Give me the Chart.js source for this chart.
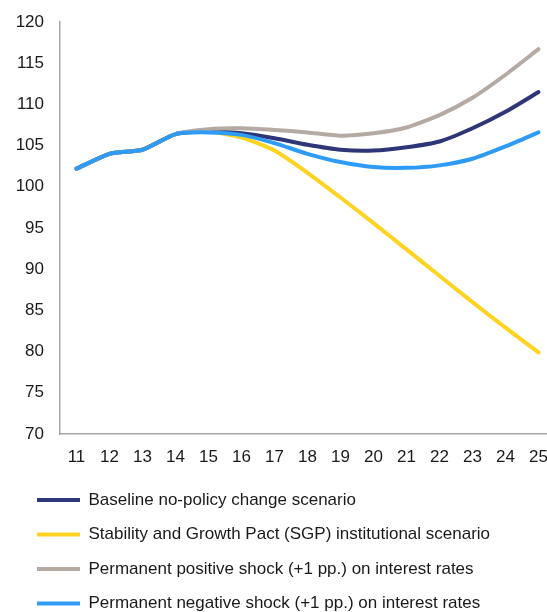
<!DOCTYPE html>
<html>
<head>
<meta charset="utf-8">
<script src="https://cdn.jsdelivr.net/npm/chart.js@4/dist/chart.umd.min.js"></script>
<style>
	html, body { margin: 0; padding: 0; background: #fff; overflow: hidden; }
	#wrap { width: 561px; height: 622px; }
</style>
</head>
<body>
<div id="wrap"><canvas id="myChart"></canvas></div>
<script>
	//연도 (x축)
	var years = ['11', '12', '13', '14', '15', '16', '17', '18', '19', '20', '21', '22', '23', '24', '25'];
	//시나리오별 값
	var baseline = [102.2, 104.0, 104.5, 106.4, 106.7, 106.5, 105.9, 105.1, 104.5, 104.4, 104.8, 105.5, 107.1, 109.1, 111.5];
	var sgp = [102.2, 104.0, 104.5, 106.4, 106.7, 106.0, 104.4, 101.7, 98.7, 95.6, 92.4, 89.2, 86.0, 82.9, 79.9];
	var positiveShock = [102.2, 104.0, 104.5, 106.4, 107.0, 107.1, 106.9, 106.6, 106.2, 106.5, 107.2, 108.7, 110.8, 113.6, 116.7];
	var negativeShock = [102.2, 104.0, 104.5, 106.4, 106.6, 106.3, 105.3, 104.0, 103.0, 102.4, 102.3, 102.6, 103.4, 104.9, 106.6];
	//범례
	var seriesNames = [
		'Baseline no-policy change scenario',
		'Stability and Growth Pact (SGP) institutional scenario',
		'Permanent positive shock (+1 pp.) on interest rates',
		'Permanent negative shock (+1 pp.) on interest rates'
	];

	var fontSet = { family: 'Liberation Sans, Arial, sans-serif', size: 17 };

	function line(label, values, color, order) {
		return {
			label: label,
			data: values,
			borderColor: color,
			backgroundColor: color,
			borderWidth: 4,
			borderCapStyle: 'round',
			borderJoinStyle: 'round',
			pointRadius: 0,
			tension: 0.2,
			order: order
		};
	}

	//범례만 오른쪽으로 밀기
	var legendShift = {
		id: 'legendShift',
		afterLayout: function(chart) {
			if (chart.legend) chart.legend.left = 19.5;
		}
	};

	var ctx = document.getElementById('myChart').getContext('2d');
	var chart = new Chart(ctx, {
		type: 'line',
		data: {
			labels: years,
			datasets: [
				line(seriesNames[0], baseline, '#2f3677', 2),
				line(seriesNames[1], sgp, '#ffd320', 3),
				line(seriesNames[2], positiveShock, '#b4aaa3', 1),
				line(seriesNames[3], negativeShock, '#2e9bf6', 0)
			]
		},
		options: {
			responsive: true,
			maintainAspectRatio: false,
			animation: false,
			layout: { padding: { top: 22, left: 0, right: 2, bottom: 0 } },
			plugins: {
				tooltip: { enabled: false },
				legend: {
					position: 'bottom',
					align: 'start',
					labels: {
						usePointStyle: true,
						pointStyle: 'line',
						pointStyleWidth: 43,
						padding: 17.5,
						color: '#1a1a1a',
						font: fontSet,
						sort: function(a, b) { return a.datasetIndex - b.datasetIndex; }
					}
				}
			},
			scales: {
				x: {
					offset: true,
					grid: { display: false, drawTicks: false },
					border: { color: '#a6a6a6', width: 1.5 },
					ticks: {
						padding: 13,
						maxRotation: 0,
						autoSkip: false,
						color: '#1a1a1a',
						font: fontSet
					},
					afterFit: function(axis) { axis.height = 40; }
				},
				y: {
					min: 70,
					max: 120,
					grid: { display: false, drawTicks: false },
					border: { color: '#a6a6a6', width: 1.5 },
					ticks: {
						stepSize: 5,
						padding: 16,
						color: '#1a1a1a',
						font: fontSet
					},
					afterFit: function(axis) {
						axis.width = 60;
						axis.paddingTop = 0;
						axis.paddingBottom = 0;
					}
				}
			}
		},
		plugins: [legendShift]
	});
</script>
</body>
</html>
